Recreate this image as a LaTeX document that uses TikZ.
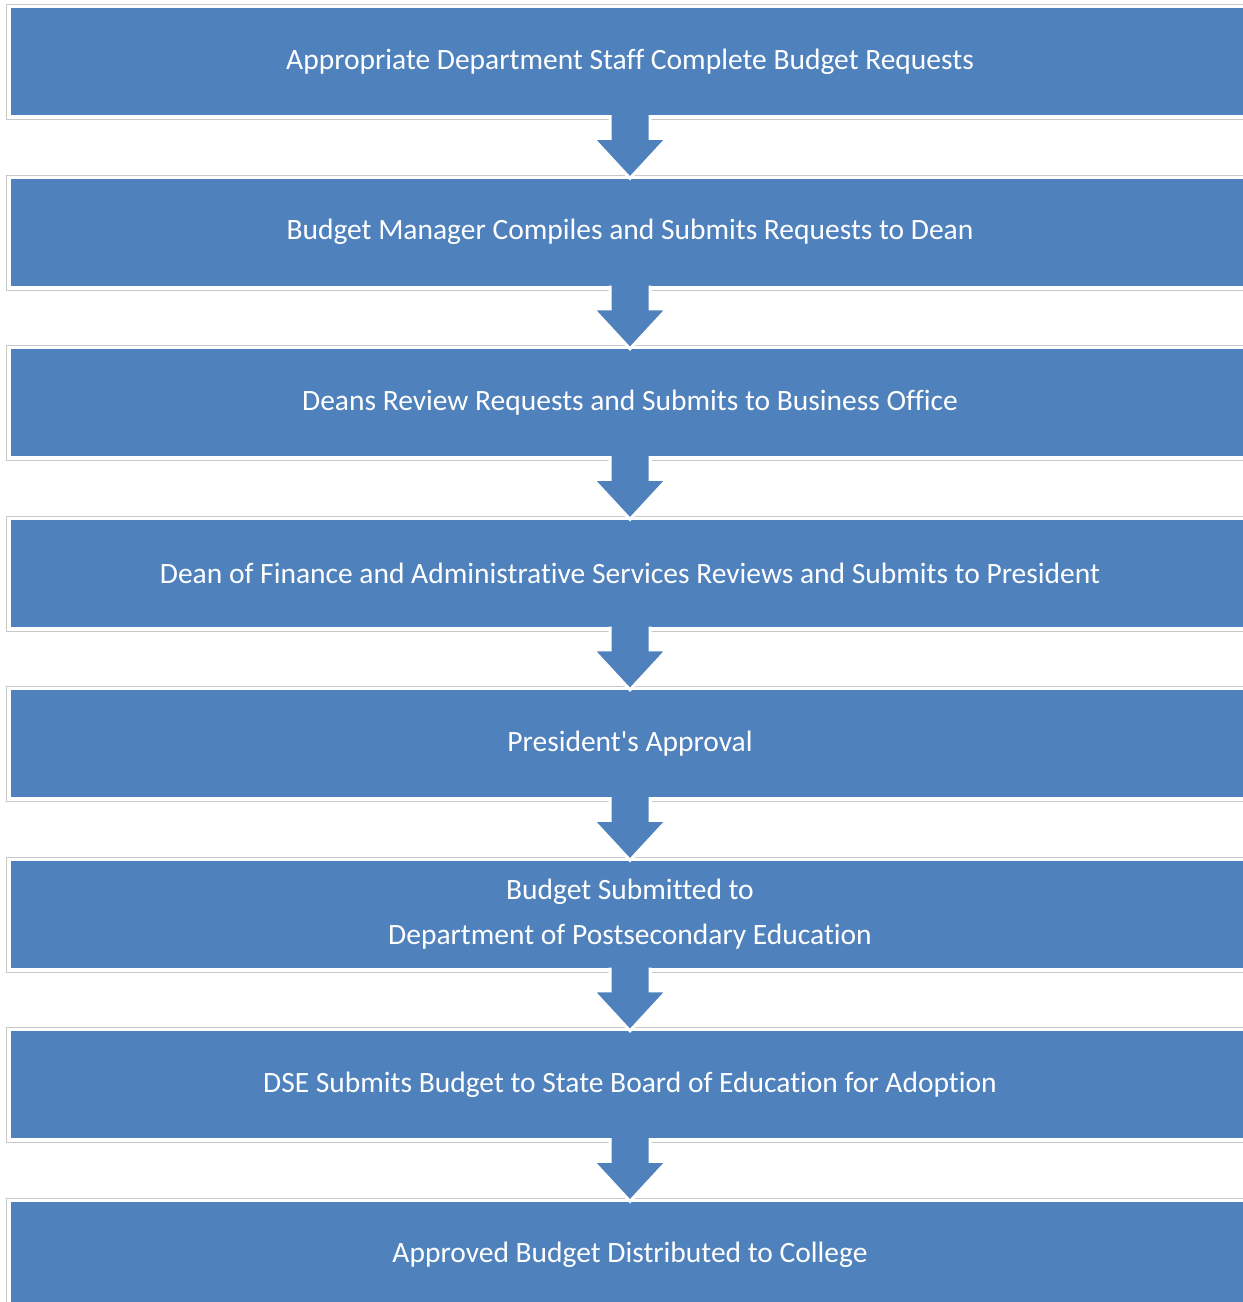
\documentclass[tikz,border=0pt]{standalone}
\usepackage{fontspec}
\setmainfont{Carlito}[Ligatures={TeXOff,NoCommon}]
\usetikzlibrary{calc}
\definecolor{stepblue}{HTML}{4F81BD}
\definecolor{framegray}{HTML}{C8C8C8}

% block arrow from the bottom of one box to the top of the next
\newcommand{\blockarrow}[2]{%
  \filldraw[fill=stepblue, draw=white, line width=3pt, line join=miter]
    ($(#1.south)+(-20,0)$) -- ($(#2.north)+(-20,-40)$) -- ($(#2.north)+(-37,-40)$)
    -- (#2.north) -- ($(#2.north)+(37,-40)$) -- ($(#2.north)+(20,-40)$)
    -- ($(#1.south)+(20,0)$);}

\begin{document}
\begin{tikzpicture}[x=1pt, y=-1pt,
  stepbox/.style={fill=stepblue, text=white, minimum width=1238pt, minimum height=107pt,
    align=center, inner sep=0pt, font=\fontsize{29.5}{45}\selectfont}]
\useasboundingbox (0,0) rectangle (1243,1302);
\node[stepbox] (s1) at (630,61.5) {Appropriate Department Staff Complete Budget Requests};
\node[stepbox] (s2) at (630,232) {Budget Manager Compiles and Submits Requests to Dean};
\node[stepbox] (s3) at (630,402.5) {Deans Review Requests and Submits to Business Office};
\node[stepbox] (s4) at (630,573) {Dean of Finance and Administrative Services Reviews and Submits to President};
\node[stepbox] (s5) at (630,743.5) {President's Approval};
\node[stepbox] (s6) at (630,914) {Budget Submitted to\\Department of Postsecondary Education};
\node[stepbox] (s7) at (630,1084.5) {DSE Submits Budget to State Board of Education for Adoption};
\node[stepbox] (s8) at (630,1255) {Approved Budget Distributed to College};
% frames
\foreach \s in {s1,s2,s3,s4,s5,s6,s7,s8}
  \draw[framegray, line width=1pt] ($(\s.north west)+(-4.5,-3)$) rectangle ($(\s.south east)+(4.5,4.5)$);
% arrows
\blockarrow{s1}{s2}
\blockarrow{s2}{s3}
\blockarrow{s3}{s4}
\blockarrow{s4}{s5}
\blockarrow{s5}{s6}
\blockarrow{s6}{s7}
\blockarrow{s7}{s8}
\end{tikzpicture}
\end{document}
